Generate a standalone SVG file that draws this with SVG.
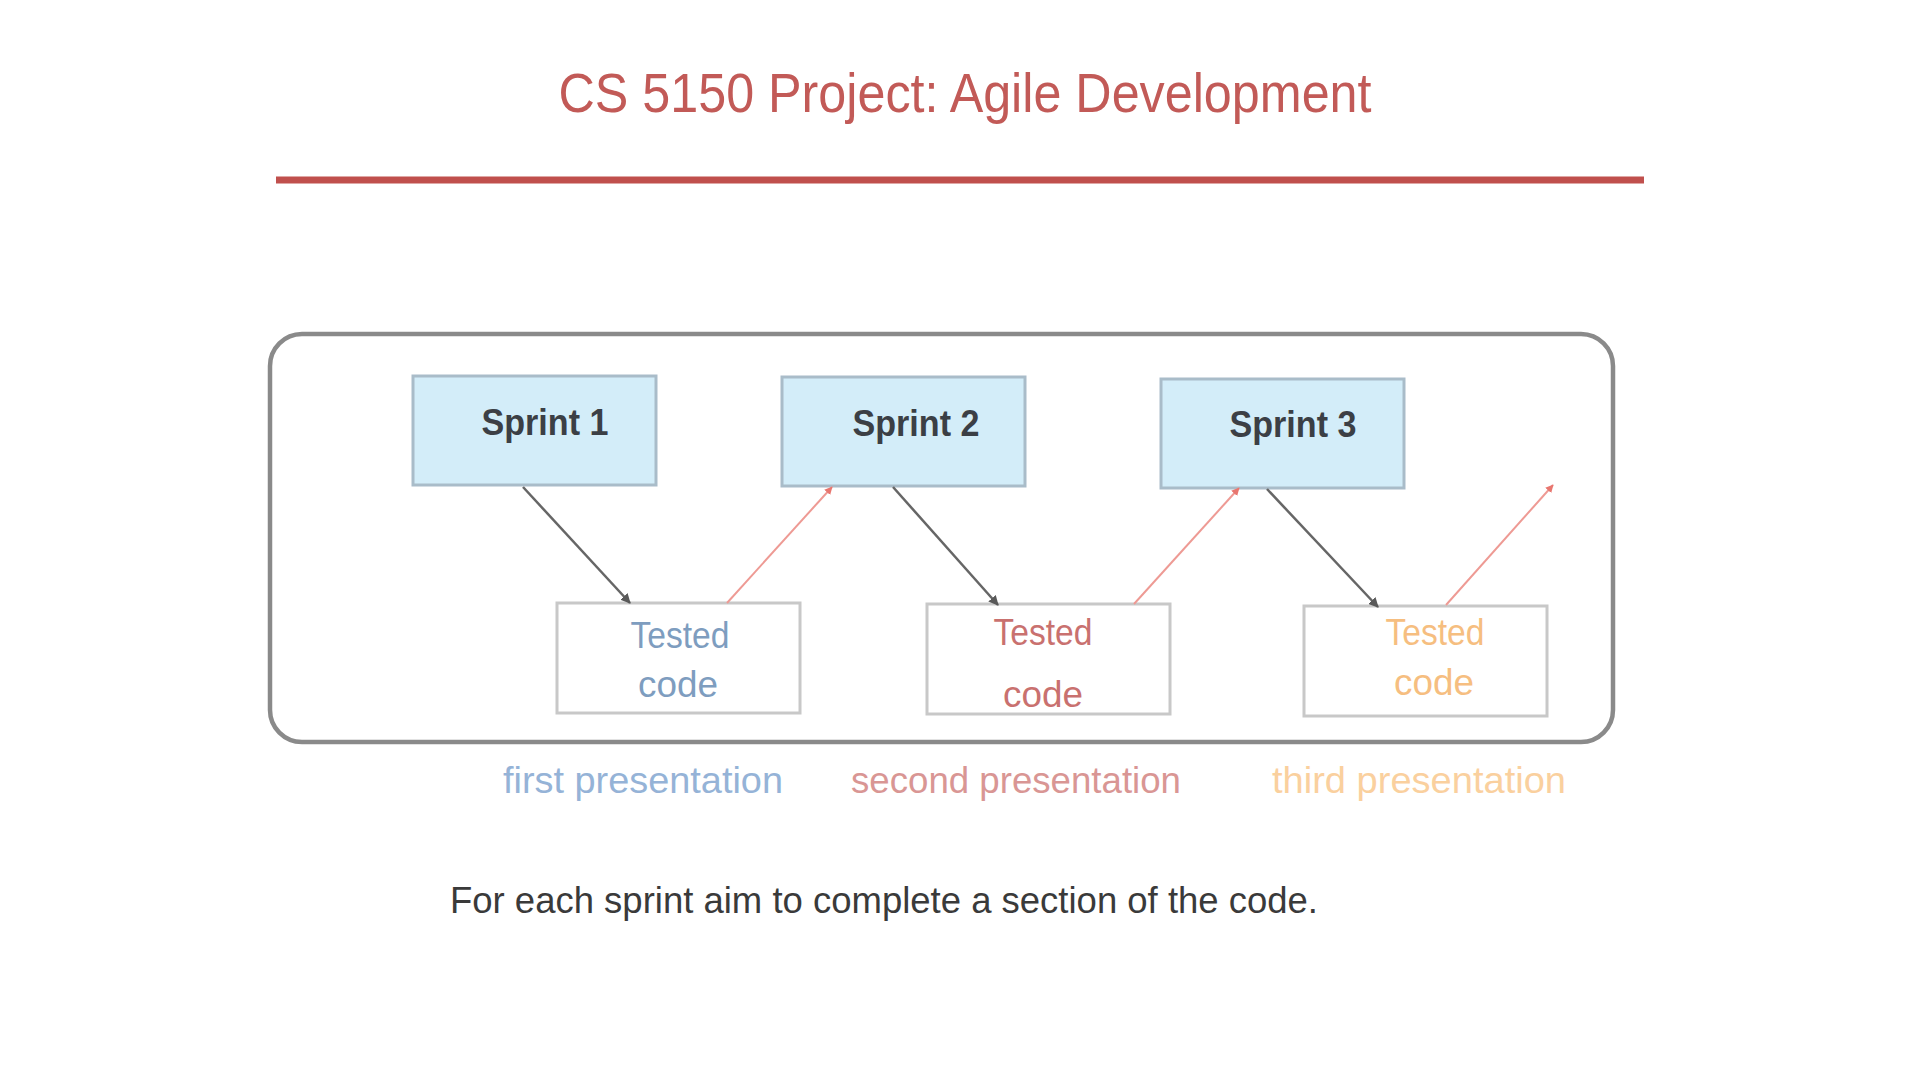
<svg xmlns="http://www.w3.org/2000/svg" width="1920" height="1080" viewBox="0 0 1920 1080">
  <defs>
    <marker id="arrGray" viewBox="0 0 10 10" refX="9" refY="5" markerWidth="4" markerHeight="4" orient="auto">
      <path d="M0,0 L10,5 L0,10 z" fill="#595959"/>
    </marker>
    <marker id="arrRed" viewBox="0 0 10 10" refX="9" refY="5" markerWidth="4" markerHeight="4" orient="auto">
      <path d="M0,0 L10,5 L0,10 z" fill="#E8766F"/>
    </marker>
  </defs>
  <style>
    text { font-family: "Liberation Sans", Arial, sans-serif; }
    .sprint rect { fill: #D3EDF9; stroke: #A9BCC9; stroke-width: 3; }
    .sprint text { font-size: 36px; font-weight: bold; fill: #3B3F45; text-anchor: middle; }
    .tested rect { fill: #FFFFFF; stroke: #C8C8C8; stroke-width: 3; }
    .tested text { font-size: 36px; text-anchor: middle; }
    .label { font-size: 36px; text-anchor: middle; }
    .gray { stroke: #666666; stroke-width: 2.5; fill: none; marker-end: url(#arrGray); }
    .red { stroke: #EE9A94; stroke-width: 2; fill: none; marker-end: url(#arrRed); }
  </style>
  <rect width="1920" height="1080" fill="#FFFFFF"/>

  <g id="title">
    <text x="965" y="112" font-size="56" fill="#C25A57" text-anchor="middle" textLength="813" lengthAdjust="spacingAndGlyphs">CS 5150 Project: Agile Development</text>
    <line x1="276" y1="180" x2="1644" y2="180" stroke="#C0504D" stroke-width="7"/>
  </g>

  <g id="container">
    <rect x="270" y="334" width="1343" height="408" rx="32" ry="32" fill="none" stroke="#8A8A8A" stroke-width="4.5"/>
  </g>

  <g id="sprint1" class="sprint">
    <rect x="413" y="376" width="243" height="109"/>
    <text x="545" y="435" textLength="127" lengthAdjust="spacingAndGlyphs">Sprint 1</text>
  </g>
  <g id="sprint2" class="sprint">
    <rect x="782" y="377" width="243" height="109"/>
    <text x="916" y="436" textLength="127" lengthAdjust="spacingAndGlyphs">Sprint 2</text>
  </g>
  <g id="sprint3" class="sprint">
    <rect x="1161" y="379" width="243" height="109"/>
    <text x="1293" y="437" textLength="127" lengthAdjust="spacingAndGlyphs">Sprint 3</text>
  </g>

  <g id="tested1" class="tested">
    <rect x="557" y="603" width="243" height="110"/>
    <text x="680" y="648" fill="#7E9DBF" textLength="99" lengthAdjust="spacingAndGlyphs">Tested</text>
    <text x="678" y="697" fill="#7E9DBF" textLength="80" lengthAdjust="spacingAndGlyphs">code</text>
  </g>
  <g id="tested2" class="tested">
    <rect x="927" y="604" width="243" height="110"/>
    <text x="1043" y="645" fill="#C9716F" textLength="99" lengthAdjust="spacingAndGlyphs">Tested</text>
    <text x="1043" y="707" fill="#C9716F" textLength="80" lengthAdjust="spacingAndGlyphs">code</text>
  </g>
  <g id="tested3" class="tested">
    <rect x="1304" y="606" width="243" height="110"/>
    <text x="1435" y="645" fill="#F6BE80" textLength="99" lengthAdjust="spacingAndGlyphs">Tested</text>
    <text x="1434" y="695" fill="#F6BE80" textLength="80" lengthAdjust="spacingAndGlyphs">code</text>
  </g>

  <g id="connectors">
    <line class="gray" x1="523" y1="487" x2="630" y2="603"/>
    <line class="red" x1="727" y1="603" x2="832" y2="487"/>
    <line class="gray" x1="893" y1="487" x2="998" y2="605"/>
    <line class="red" x1="1134" y1="604" x2="1239" y2="488"/>
    <line class="gray" x1="1267" y1="489" x2="1378" y2="607"/>
    <line class="red" x1="1446" y1="605" x2="1553" y2="485"/>
  </g>

  <g id="labels">
    <text class="label" x="643" y="793" fill="#95B3D7" textLength="280" lengthAdjust="spacingAndGlyphs">first presentation</text>
    <text class="label" x="1016" y="793" fill="#D99694" textLength="330" lengthAdjust="spacingAndGlyphs">second presentation</text>
    <text class="label" x="1419" y="793" fill="#FAD09E" textLength="294" lengthAdjust="spacingAndGlyphs">third presentation</text>
  </g>

  <g id="note">
    <text x="884" y="913" font-size="36" fill="#3A3A3A" text-anchor="middle" textLength="868" lengthAdjust="spacingAndGlyphs">For each sprint aim to complete a section of the code.</text>
  </g>
</svg>
